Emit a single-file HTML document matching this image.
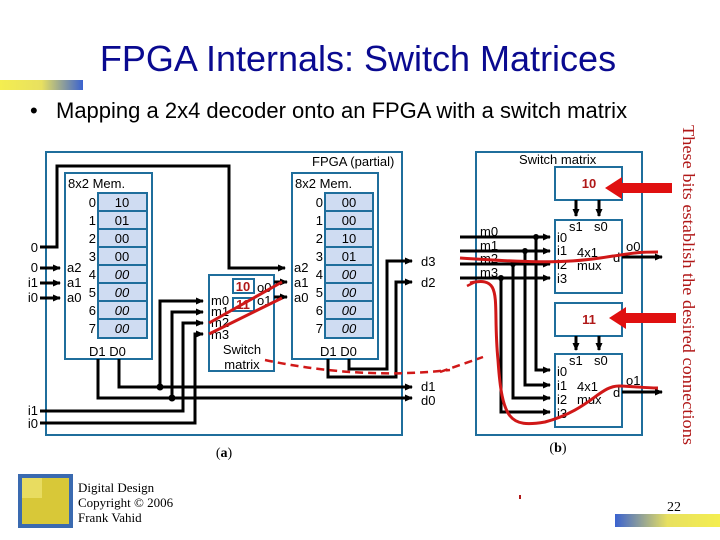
<!DOCTYPE html>
<html><head><meta charset="utf-8"><style>
html,body{margin:0;padding:0;background:#fff;}
svg{display:block;}
text{font-family:"Liberation Sans",sans-serif;}
.s{font-family:"Liberation Serif",serif;}
</style></head><body>
<svg width="720" height="540" viewBox="0 0 720 540" xmlns="http://www.w3.org/2000/svg">
<defs>
<linearGradient id="yb" x1="0" x2="1"><stop offset="0" stop-color="#f4ee50"/><stop offset="0.5" stop-color="#e8e060"/><stop offset="1" stop-color="#3a62d0"/></linearGradient>
<linearGradient id="by" x1="0" x2="1"><stop offset="0" stop-color="#3a62d0"/><stop offset="0.5" stop-color="#e8e060"/><stop offset="1" stop-color="#f4ee50"/></linearGradient>
<marker id="ar" markerWidth="8" markerHeight="7" refX="7" refY="3.5" orient="auto" markerUnits="userSpaceOnUse" viewBox="0 0 8 7"><path d="M0,0L8,3.5L0,7z" fill="#000"/></marker>
</defs>
<text x="358" y="71" font-size="36" fill="#0a0a90" text-anchor="middle">FPGA Internals: Switch Matrices</text>
<rect x="0" y="80" width="83" height="10" fill="url(#yb)"/>
<text x="30" y="118" font-size="22" fill="#000">•</text>
<text x="56" y="118" font-size="22" fill="#000">Mapping a 2x4 decoder onto an FPGA with a switch matrix</text>

<g fill="none" stroke="#1f6e9c" stroke-width="2">
<rect x="46" y="152" width="356" height="283"/>
<rect x="65" y="173" width="87" height="186"/>
<rect x="292" y="173" width="86" height="186"/>
<rect x="209" y="275" width="65" height="96"/>
<rect x="476" y="152" width="166" height="283"/>
<rect x="555" y="167" width="67" height="33"/>
<rect x="555" y="220" width="67" height="73"/>
<rect x="555" y="303" width="67" height="33"/>
<rect x="555" y="354" width="67" height="73"/>
<rect x="233" y="279" width="21" height="14"/>
<rect x="233" y="298" width="21" height="13"/>
</g>
<g stroke="#1f6e9c" stroke-width="2" fill="#cfdcf2">
<rect x="98" y="193" width="49" height="18"/><rect x="98" y="211" width="49" height="18"/><rect x="98" y="229" width="49" height="18"/><rect x="98" y="247" width="49" height="18"/><rect x="98" y="265" width="49" height="18"/><rect x="98" y="283" width="49" height="18"/><rect x="98" y="301" width="49" height="18"/><rect x="98" y="319" width="49" height="19"/>
<rect x="325" y="193" width="48" height="18"/><rect x="325" y="211" width="48" height="18"/><rect x="325" y="229" width="48" height="18"/><rect x="325" y="247" width="48" height="18"/><rect x="325" y="265" width="48" height="18"/><rect x="325" y="283" width="48" height="18"/><rect x="325" y="301" width="48" height="18"/><rect x="325" y="319" width="48" height="19"/>
</g>
<g font-size="13" fill="#000">
<text x="68" y="188">8x2 Mem.</text>
<text x="295" y="188">8x2 Mem.</text>
<text x="312" y="166">FPGA (partial)</text>
<text x="519" y="164">Switch matrix</text>
<g text-anchor="end"><text x="96" y="207">0</text><text x="96" y="225">1</text><text x="96" y="243">2</text><text x="96" y="261">3</text><text x="96" y="279">4</text><text x="96" y="297">5</text><text x="96" y="315">6</text><text x="96" y="333">7</text>
<text x="323" y="207">0</text><text x="323" y="225">1</text><text x="323" y="243">2</text><text x="323" y="261">3</text><text x="323" y="279">4</text><text x="323" y="297">5</text><text x="323" y="315">6</text><text x="323" y="333">7</text>
<text x="38" y="252">0</text><text x="38" y="272">0</text><text x="38" y="287">i1</text><text x="38" y="302">i0</text><text x="38" y="415">i1</text><text x="38" y="428">i0</text></g>
<g text-anchor="middle"><text x="122" y="207">10</text><text x="122" y="225">01</text><text x="122" y="243">00</text><text x="122" y="261">00</text>
<g font-style="italic"><text x="122" y="279">00</text><text x="122" y="297">00</text><text x="122" y="315">00</text><text x="122" y="333">00</text></g>
<text x="349" y="207">00</text><text x="349" y="225">00</text><text x="349" y="243">10</text><text x="349" y="261">01</text>
<g font-style="italic"><text x="349" y="279">00</text><text x="349" y="297">00</text><text x="349" y="315">00</text><text x="349" y="333">00</text></g>
<text x="242" y="354">Switch</text><text x="242" y="369">matrix</text></g>
<text x="89" y="356">D1 D0</text><text x="320" y="356">D1 D0</text>
<text x="67" y="272">a2</text><text x="67" y="287">a1</text><text x="67" y="302">a0</text>
<text x="294" y="272">a2</text><text x="294" y="287">a1</text><text x="294" y="302">a0</text>
<text x="211" y="305">m0</text><text x="211" y="316">m1</text><text x="211" y="327">m2</text><text x="211" y="339">m3</text>
<text x="257" y="292">o0</text><text x="257" y="305">o1</text>
<text x="421" y="266">d3</text><text x="421" y="287">d2</text><text x="421" y="391">d1</text><text x="421" y="405">d0</text>
<text x="480" y="236">m0</text><text x="480" y="250">m1</text><text x="480" y="263">m2</text><text x="480" y="277">m3</text>
<text x="557" y="242">i0</text><text x="557" y="255">i1</text><text x="557" y="269">i2</text><text x="557" y="283">i3</text>
<text x="569" y="231">s1</text><text x="594" y="231">s0</text><text x="577" y="257">4x1</text><text x="577" y="270">mux</text><text x="613" y="262">d</text><text x="626" y="251">o0</text>
<text x="557" y="376">i0</text><text x="557" y="390">i1</text><text x="557" y="404">i2</text><text x="557" y="418">i3</text>
<text x="569" y="365">s1</text><text x="594" y="365">s0</text><text x="577" y="391">4x1</text><text x="577" y="404">mux</text><text x="613" y="397">d</text><text x="626" y="385">o1</text>
</g>
<g font-weight="bold" fill="#b01818" font-size="13" text-anchor="middle">
<text x="589" y="188">10</text><text x="589" y="324">11</text>
<text x="243" y="291">10</text><text x="243" y="309">11</text></g>

<g stroke="#000" stroke-width="3" fill="none">
<polyline points="40,247 57,247 57,166 229,166 229,268 285,268" marker-end="url(#ar)"/>
<line x1="40" y1="268" x2="60" y2="268" marker-end="url(#ar)"/>
<line x1="40" y1="283" x2="60" y2="283" marker-end="url(#ar)"/>
<line x1="40" y1="298" x2="60" y2="298" marker-end="url(#ar)"/>
<polyline points="119,359 119,387 412,387" marker-end="url(#ar)"/>
<polyline points="98,359 98,398 412,398" marker-end="url(#ar)"/>
<polyline points="160,387 160,301 203,301" marker-end="url(#ar)"/>
<polyline points="172,398 172,312 203,312" marker-end="url(#ar)"/>
<polyline points="40,411 183,411 183,323 203,323" marker-end="url(#ar)"/>
<polyline points="40,423 195,423 195,334 203,334" marker-end="url(#ar)"/>
<polyline points="328,359 328,377 396,377 396,282 412,282" marker-end="url(#ar)"/>
<polyline points="349,359 349,369 387,369 387,261 412,261" marker-end="url(#ar)"/>
<line x1="274" y1="282" x2="287" y2="282" marker-end="url(#ar)"/>
<line x1="274" y1="297" x2="287" y2="297" marker-end="url(#ar)"/>
<line x1="460" y1="237" x2="550" y2="237" marker-end="url(#ar)"/>
<line x1="460" y1="251" x2="550" y2="251" marker-end="url(#ar)"/>
<line x1="460" y1="264" x2="550" y2="264" marker-end="url(#ar)"/>
<line x1="460" y1="278" x2="550" y2="278" marker-end="url(#ar)"/>
<polyline points="536,237 536,370 550,370" marker-end="url(#ar)"/>
<polyline points="525,251 525,385 550,385" marker-end="url(#ar)"/>
<polyline points="513,264 513,398 550,398" marker-end="url(#ar)"/>
<polyline points="501,278 501,412 550,412" marker-end="url(#ar)"/>
<line x1="622" y1="257" x2="662" y2="257" marker-end="url(#ar)"/>
<line x1="622" y1="392" x2="662" y2="392" marker-end="url(#ar)"/>
<line x1="576" y1="200" x2="576" y2="216" marker-end="url(#ar)"/>
<line x1="599" y1="200" x2="599" y2="216" marker-end="url(#ar)"/>
<line x1="576" y1="336" x2="576" y2="350" marker-end="url(#ar)"/>
<line x1="599" y1="336" x2="599" y2="350" marker-end="url(#ar)"/>
</g>
<g fill="#000"><circle cx="160" cy="387" r="3.5"/><circle cx="172" cy="398" r="3.5"/>
<circle cx="536" cy="237" r="3"/><circle cx="525" cy="251" r="3"/><circle cx="513" cy="264" r="3"/><circle cx="501" cy="278" r="3"/></g>

<g stroke="#d01818" stroke-width="3" fill="none">
<line x1="209" y1="323" x2="282" y2="282"/>
<line x1="209" y1="334" x2="282" y2="298"/>
<path d="M460,258 C520,262 560,264 600,258 S640,252 658,252"/>
<path d="M470,283 C505,275 492,300 498,360 C502,420 510,428 545,422 C590,410 600,385 620,386 S650,388 658,388"/>
<path d="M265,360 Q360,380 450,370" stroke-dasharray="8,5" stroke-width="2.5"/>
<path d="M440,372 L483,357" stroke-dasharray="8,5" stroke-width="2.5"/>
<path d="M467,286 L475,282" stroke-width="2.5"/>
</g>
<path d="M605,188 L622,177 L622,183 L672,183 L672,193 L622,193 L622,199z" fill="#e01010"/>
<path d="M609,318 L626,307 L626,313 L676,313 L676,323 L626,323 L626,329z" fill="#e01010"/>
<text class="s" transform="translate(683,125) rotate(90)" font-size="17" fill="#b01818" textLength="320" lengthAdjust="spacingAndGlyphs">These bits establish the desired connections</text>

<text class="s" x="224" y="457" font-size="14" text-anchor="middle">(<tspan font-weight="bold">a</tspan>)</text>
<text class="s" x="558" y="452" font-size="14" text-anchor="middle">(<tspan font-weight="bold">b</tspan>)</text>
<rect x="18" y="474" width="55" height="54" fill="#3a6ab0"/>
<rect x="22" y="478" width="47" height="46" fill="#d8c838"/>
<rect x="22" y="478" width="20" height="20" fill="#e8dc60"/>
<g class="s" font-size="13" fill="#000"><text class="s" x="78" y="492">Digital Design</text><text class="s" x="78" y="507">Copyright © 2006</text><text class="s" x="78" y="522">Frank Vahid</text></g>
<text class="s" x="667" y="511" font-size="14">22</text>
<rect x="615" y="514" width="105" height="13" fill="url(#by)"/>
<rect x="519" y="495" width="2" height="4" fill="#b01818"/>
</svg>
</body></html>
